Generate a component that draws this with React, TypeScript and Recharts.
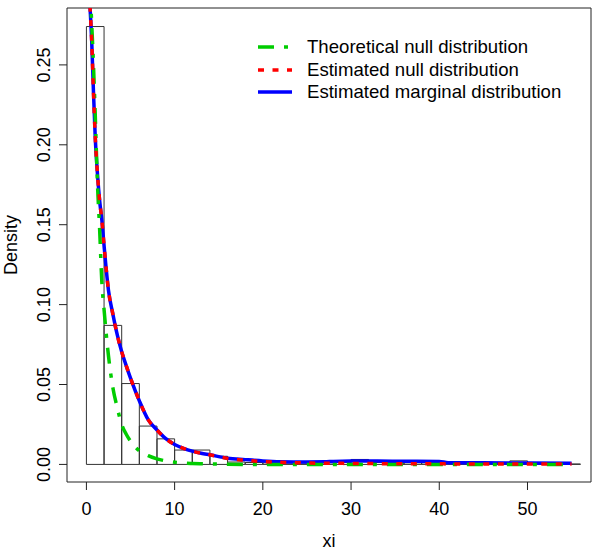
import React from "react";
import { ComposedChart, Line, XAxis, YAxis, ReferenceArea, Legend } from "recharts";

// grid of xi values where the densities were read
const xValues = [
    0.4, 0.6, 0.8, 1, 1.25, 1.5, 1.75, 2, 2.5, 3, 3.5, 4, 4.5, 5, 6, 7, 8, 9, 10, 11, 12, 13, 14, 16, 18, 20, 22, 25,
    27, 28, 30, 33, 36, 40, 41, 45, 50, 55,
];

const marginalDensity = [
    0.287, 0.265, 0.233, 0.205, 0.182, 0.165, 0.153, 0.137, 0.109, 0.094, 0.081, 0.0705, 0.062, 0.054, 0.0398, 0.028,
    0.0215, 0.0161, 0.0125, 0.0101, 0.0083, 0.007, 0.006, 0.0039, 0.003, 0.0022, 0.0017, 0.0015, 0.0016, 0.0019, 0.0021,
    0.0021, 0.002, 0.0019, 0.0011, 0.001, 0.0009, 0.0008,
];

const estimatedNullDensity = [
    0.287, 0.265, 0.233, 0.205, 0.182, 0.165, 0.153, 0.137, 0.109, 0.094, 0.081, 0.0705, 0.062, 0.054, 0.0398, 0.028,
    0.0215, 0.0161, 0.0125, 0.0101, 0.0083, 0.007, 0.006, 0.0037, 0.0026, 0.0018, 0.0013, 0.0009, 0.0007, 0.0007, 0.0006,
    0.0005, 0.0004, 0.0004, 0.0003, 0.0003, 0.0002, 0.0002,
];

const theoreticalNullDensity = [
    0.298, 0.276, 0.25, 0.219, 0.176, 0.147, 0.114, 0.097, 0.068, 0.048, 0.0355, 0.025, 0.019, 0.0145, 0.0085, 0.0055,
    0.0035, 0.0022, 0.0014, 0.0009, 0.0006, 0.0004, 0.0003, 0.0001, 0, 0, 0, 0, 0, 0, 0, 0, 0, 0, 0, 0, 0, 0,
];

// histogram of xi
const binEdges = [0, 2, 4, 6, 8, 10, 12, 14, 16, 18, 20, 22, 24, 26, 28, 30, 32, 34, 36, 38, 40, 42, 44, 46, 48, 50, 52, 54, 56];
const binDensity = [
    0.274, 0.087, 0.0506, 0.024, 0.016, 0.009, 0.009, 0.0051, 0.0015, 0.0012, 0.001, 0.0008, 0.0008, 0.001, 0.0012,
    0.0031, 0.0012, 0.001, 0.001, 0.001, 0.0008, 0.0005, 0.0005, 0.0005, 0.0022, 0.0004, 0.0003, 0.0003,
];

const xTicks = [0, 10, 20, 30, 40, 50];
const yTicks = [0, 0.05, 0.1, 0.15, 0.2, 0.25];
const xDomain = [-2.2, 57.2];
const yDomain = [-0.011, 0.2856];

const series = [
    { key: "theoNull", name: "Theoretical null distribution", color: "#00CD00", dash: "16 10 4 10" },
    { key: "estNull", name: "Estimated null distribution", color: "#FF0000", dash: "6 8.5" },
    { key: "marginal", name: "Estimated marginal distribution", color: "#0000FF", dash: undefined },
];

const chartData = xValues.map((x, i) => ({
    x,
    marginal: marginalDensity[i],
    estNull: estimatedNullDensity[i],
    theoNull: theoreticalNullDensity[i],
}));

const YTick = ({ x, y, payload }: any) => (
    <text x={x} y={y} transform={`rotate(-90 ${x} ${y})`} textAnchor="middle" fontSize={18} fill="#000">
        {Number(payload.value).toFixed(2)}
    </text>
);

const LegendBox = () => (
    <div style={{ fontSize: 18.6, color: "#000" }}>
        {series.map((s) => (
            <div key={s.key} style={{ display: "flex", alignItems: "center", height: 22.5 }}>
                <svg width={34} height={6} style={{ marginRight: 15 }}>
                    <line x1={0} y1={3} x2={34} y2={3} stroke={s.color} strokeWidth={3.5} strokeDasharray={s.dash} />
                </svg>
                <span>{s.name}</span>
            </div>
        ))}
    </div>
);

const App = () => {
    return (
        <div style={{ position: "absolute", left: 0, top: 0, width: 600, height: 552, background: "#fff", fontFamily: "'Liberation Sans', Arial, sans-serif" }}>
            <ComposedChart width={600} height={552} data={chartData} margin={{ top: 8, right: 9, left: 0, bottom: 0 }}>
                <XAxis
                    type="number"
                    dataKey="x"
                    domain={xDomain}
                    allowDataOverflow
                    ticks={xTicks}
                    height={70}
                    axisLine={false}
                    tickSize={8}
                    tickMargin={12}
                    stroke="#222"
                    tick={{ fill: "#000", fontSize: 18 }}
                    label={{ value: "xi", position: "insideBottom", offset: 5, fill: "#000", fontSize: 18 }}
                />
                <YAxis
                    type="number"
                    domain={yDomain}
                    allowDataOverflow
                    ticks={yTicks}
                    width={67}
                    axisLine={false}
                    tickSize={8}
                    tickMargin={9}
                    stroke="#222"
                    tick={YTick}
                    label={{ value: "Density", angle: -90, position: "insideLeft", offset: 11, fill: "#000", fontSize: 18, style: { textAnchor: "middle" } }}
                />
                {binDensity.map((d, i) => (
                    <ReferenceArea
                        key={i}
                        x1={binEdges[i]}
                        x2={binEdges[i + 1]}
                        y1={0}
                        y2={d}
                        fill="none"
                        stroke="#333"
                        strokeWidth={1}
                        ifOverflow="visible"
                    />
                ))}
                <ReferenceArea
                    x1={xDomain[0]}
                    x2={xDomain[1]}
                    y1={yDomain[0]}
                    y2={yDomain[1]}
                    fill="none"
                    stroke="#222"
                    strokeWidth={1}
                    ifOverflow="visible"
                />
                <Line type="monotone" dataKey="marginal" stroke="#0000FF" strokeWidth={3.5} dot={false} isAnimationActive={false} />
                <Line type="monotone" dataKey="theoNull" stroke="#00CD00" strokeWidth={3.5} strokeDasharray="16 10 4 10" dot={false} isAnimationActive={false} />
                <Line type="monotone" dataKey="estNull" stroke="#FF0000" strokeWidth={3.5} strokeDasharray="6 8.5" dot={false} isAnimationActive={false} />
                <Legend layout="vertical" align="center" verticalAlign="middle" wrapperStyle={{ top: 36, left: 258, width: 330 }} content={() => <LegendBox />} />
            </ComposedChart>
        </div>
    );
};

export default App;
